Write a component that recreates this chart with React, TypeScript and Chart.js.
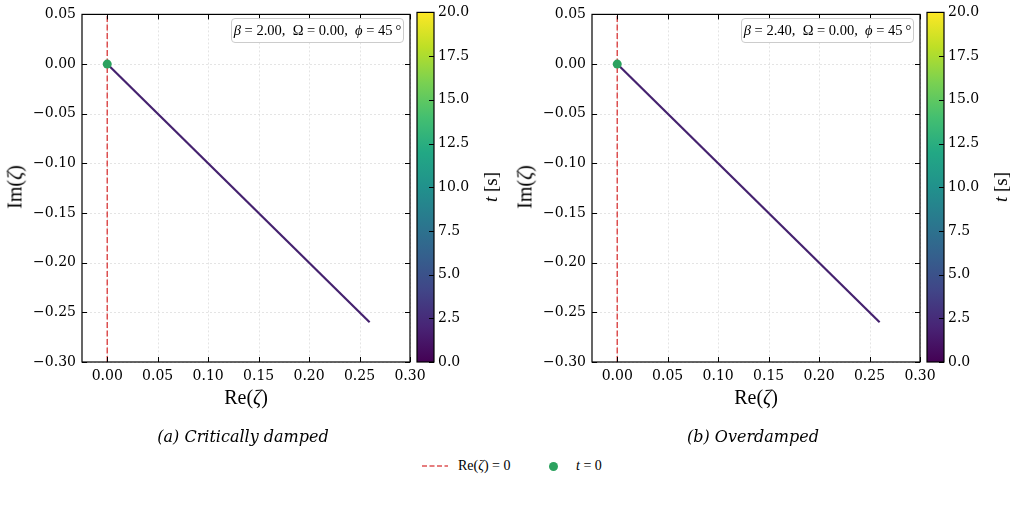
import React, { useEffect, useRef } from "react";
import { Chart, registerables } from "chart.js";

Chart.register(...registerables);

// ---- data ----
const panelTitles = ["(a) Critically damped", "(b) Overdamped"];
const betaValues = [2.0, 2.4];
const omegaValues = [0.0, 0.0];
const phiDegrees = [45, 45];
// trajectory endpoints in the complex plane (Re, Im)
const pathRe = [
  [0.0, 0.26],
  [0.0, 0.26],
];
const pathIm = [
  [0.0, -0.26],
  [0.0, -0.26],
];
const xTickValues = [0.0, 0.05, 0.1, 0.15, 0.2, 0.25, 0.3];
const yTickValues = [-0.3, -0.25, -0.2, -0.15, -0.1, -0.05, 0.0, 0.05];
const xLimits = [-0.025, 0.3];
const yLimits = [-0.3, 0.05];
const timeRange = [0, 20];
const colorbarTicks = [0, 2.5, 5, 7.5, 10, 12.5, 15, 17.5, 20];

// ---- styling ----
const viridisStops = [
  "#440154", "#482475", "#414487", "#355f8d", "#2a788e", "#21918c",
  "#22a884", "#44bf70", "#7ad151", "#bddf26", "#fde725",
];
const pathColor = "#45226f";
const zeroLineColor = "rgba(214, 39, 40, 0.8)";
const startColor = "#2ca25f";
const tickFont = { family: "'DejaVu Serif', serif", size: 14 };
const mathFont = "'Liberation Serif', 'DejaVu Serif', serif";

const PANEL_SHIFT = 510;
const PLOT = { left: 82, right: 410, top: 12, bottom: 362 };
const MAIN_W = 440;
const MAIN_H = 420;
const CB_LEFT = 410;
const CB_W = 100;
const CB_H = 380;

const fmt2 = (v: number) =>
  Math.abs(v) < 1e-9 ? "0.00" : (v < 0 ? "\u2212" : "") + Math.abs(v).toFixed(2);

const line = (ctx: CanvasRenderingContext2D, x1: number, y1: number, x2: number, y2: number) => {
  ctx.beginPath();
  ctx.moveTo(x1, y1);
  ctx.lineTo(x2, y2);
  ctx.stroke();
};

const axesPlugin = {
  id: "axesDecor",
  beforeDatasetsDraw(chart: any) {
    const { ctx, chartArea: a, scales } = chart;
    ctx.save();
    ctx.strokeStyle = "#dedede";
    ctx.lineWidth = 0.8;
    ctx.setLineDash([2, 2]);
    xTickValues.forEach((v) => {
      const px = Math.round(scales.x.getPixelForValue(v)) + 0.5;
      line(ctx, px, a.top, px, a.bottom);
    });
    yTickValues.forEach((v) => {
      const py = Math.round(scales.y.getPixelForValue(v)) + 0.5;
      line(ctx, a.left, py, a.right, py);
    });
    ctx.restore();
  },
  afterDatasetsDraw(chart: any) {
    const { ctx, chartArea: a, scales } = chart;
    ctx.save();
    ctx.strokeStyle = "#000";
    ctx.lineWidth = 1;
    ctx.setLineDash([]);
    const tl = 5;
    xTickValues.forEach((v) => {
      const px = Math.round(scales.x.getPixelForValue(v)) + 0.5;
      line(ctx, px, a.bottom, px, a.bottom - tl);
      line(ctx, px, a.top, px, a.top + tl);
    });
    yTickValues.forEach((v) => {
      const py = Math.round(scales.y.getPixelForValue(v)) + 0.5;
      line(ctx, a.left, py, a.left + tl, py);
      line(ctx, a.right, py, a.right - tl, py);
    });
    ctx.lineWidth = 1.2;
    ctx.strokeRect(a.left, a.top, a.right - a.left, a.bottom - a.top);
    ctx.restore();
  },
};

const colorbarPlugin = {
  id: "colorbarDecor",
  afterDatasetsDraw(chart: any) {
    const { ctx, chartArea: a, scales } = chart;
    ctx.save();
    ctx.strokeStyle = "#000";
    ctx.lineWidth = 1;
    colorbarTicks.forEach((v) => {
      const py = Math.round(scales.y.getPixelForValue(v)) + 0.5;
      line(ctx, a.right - 5, py, a.right, py);
    });
    ctx.lineWidth = 1.2;
    ctx.strokeRect(a.left, a.top, a.right - a.left, a.bottom - a.top);
    ctx.restore();
  },
};

function Panel({ index }: { index: number }) {
  const mainRef = useRef<HTMLCanvasElement | null>(null);
  const cbRef = useRef<HTMLCanvasElement | null>(null);
  const dx = index * PANEL_SHIFT;

  useEffect(() => {
    const main = new Chart(mainRef.current as HTMLCanvasElement, {
      type: "scatter",
      data: {
        datasets: [
          {
            label: "t = 0",
            data: [{ x: pathRe[index][0], y: pathIm[index][0] }],
            backgroundColor: startColor,
            borderWidth: 0,
            pointRadius: 4.5,
            showLine: false,
          },
          {
            label: "trajectory",
            data: pathRe[index].map((x, k) => ({ x, y: pathIm[index][k] })),
            showLine: true,
            borderColor: pathColor,
            borderWidth: 2.2,
            pointRadius: 0,
          },
          {
            label: "Re(ζ) = 0",
            data: yLimits.map((y) => ({ x: 0, y })),
            showLine: true,
            borderColor: zeroLineColor,
            borderWidth: 1.5,
            borderDash: [6, 2.5],
            pointRadius: 0,
          },
        ],
      },
      options: {
        animation: false,
        responsive: false,
        events: [],
        layout: { padding: { top: PLOT.top, right: MAIN_W - PLOT.right, left: 0, bottom: 0 } },
        plugins: { legend: { display: false }, tooltip: { enabled: false } },
        scales: {
          x: {
            type: "linear",
            min: xLimits[0],
            max: xLimits[1],
            grid: { display: false, drawTicks: false },
            border: { display: false },
            afterBuildTicks: (s: any) => {
              s.ticks = xTickValues.map((value) => ({ value }));
            },
            afterFit: (s: any) => {
              s.height = MAIN_H - PLOT.bottom;
            },
            ticks: {
              callback: (v: any) => fmt2(Number(v)),
              font: tickFont,
              color: "#000",
              padding: 6,
              maxRotation: 0,
              autoSkip: false,
            },
          },
          y: {
            type: "linear",
            min: yLimits[0],
            max: yLimits[1],
            grid: { display: false, drawTicks: false },
            border: { display: false },
            afterBuildTicks: (s: any) => {
              s.ticks = yTickValues.map((value) => ({ value }));
            },
            afterFit: (s: any) => {
              s.width = PLOT.left;
            },
            ticks: {
              callback: (v: any) => fmt2(Number(v)),
              font: tickFont,
              color: "#000",
              padding: 6,
              autoSkip: false,
            },
          },
        },
      } as any,
      plugins: [axesPlugin],
    });

    const cb = new Chart(cbRef.current as HTMLCanvasElement, {
      type: "bar",
      data: {
        labels: ["t"],
        datasets: [
          {
            data: [timeRange as any],
            backgroundColor: (c: any) => {
              const a = c.chart.chartArea;
              if (!a) return viridisStops[0];
              const g = c.chart.ctx.createLinearGradient(0, a.bottom, 0, a.top);
              viridisStops.forEach((col, k) => g.addColorStop(k / (viridisStops.length - 1), col));
              return g;
            },
            borderWidth: 0,
            barPercentage: 1,
            categoryPercentage: 1,
          },
        ],
      },
      options: {
        animation: false,
        responsive: false,
        events: [],
        layout: { padding: { top: PLOT.top, bottom: CB_H - PLOT.bottom, left: 7, right: 0 } },
        plugins: { legend: { display: false }, tooltip: { enabled: false } },
        scales: {
          x: { display: false },
          y: {
            position: "right",
            min: timeRange[0],
            max: timeRange[1],
            grid: { display: false, drawTicks: false },
            border: { display: false },
            afterBuildTicks: (s: any) => {
              s.ticks = colorbarTicks.map((value) => ({ value }));
            },
            afterFit: (s: any) => {
              s.width = CB_W - 24;
            },
            ticks: {
              callback: (v: any) => Number(v).toFixed(1),
              font: tickFont,
              color: "#000",
              padding: 4,
              autoSkip: false,
            },
          },
        },
      } as any,
      plugins: [colorbarPlugin],
    });

    return () => {
      main.destroy();
      cb.destroy();
    };
  }, [index]);

  const abs = (extra: React.CSSProperties): React.CSSProperties => ({
    position: "absolute",
    whiteSpace: "nowrap",
    ...extra,
  });
  const centerX = (PLOT.left + PLOT.right) / 2 + dx;
  const centerY = (PLOT.top + PLOT.bottom) / 2;

  return (
    <>
      <canvas
        ref={mainRef}
        width={MAIN_W}
        height={MAIN_H}
        style={{ position: "absolute", left: dx, top: 0, width: MAIN_W, height: MAIN_H }}
      />
      <canvas
        ref={cbRef}
        width={CB_W}
        height={CB_H}
        style={{ position: "absolute", left: CB_LEFT + dx, top: 0, width: CB_W, height: CB_H }}
      />
      {/* parameter box */}
      <div
        style={abs({
          left: PLOT.right - 6 - 173 + dx,
          top: 18,
          width: 171,
          height: 23,
          border: "1px solid #cccccc",
          borderRadius: 4,
          background: "rgba(255,255,255,0.85)",
          fontFamily: mathFont,
          fontSize: 14.5,
          lineHeight: "23px",
          textAlign: "center",
          color: "#000",
        })}
      >
        <i>β</i> = {betaValues[index].toFixed(2)},&nbsp; Ω = {omegaValues[index].toFixed(2)},&nbsp;{" "}
        <i>ϕ</i> = {phiDegrees[index]}&thinsp;°
      </div>
      {/* axis titles */}
      <div
        style={abs({
          left: centerX,
          top: 397,
          transform: "translate(-50%, -50%)",
          fontFamily: mathFont,
          fontSize: 20,
          color: "#000",
        })}
      >
        Re(<i>ζ</i>)
      </div>
      <div
        style={abs({
          left: 15 + dx,
          top: centerY,
          transform: "translate(-50%, -50%) rotate(-90deg)",
          fontFamily: mathFont,
          fontSize: 20,
          color: "#000",
        })}
      >
        Im(<i>ζ</i>)
      </div>
      <div
        style={abs({
          left: 491 + dx,
          top: centerY,
          transform: "translate(-50%, -50%) rotate(-90deg)",
          fontFamily: mathFont,
          fontSize: 19,
          color: "#000",
        })}
      >
        <i>t</i> [s]
      </div>
      {/* panel caption */}
      <div
        style={abs({
          left: 243 + dx,
          top: 436,
          transform: "translate(-50%, -50%)",
          fontFamily: "'DejaVu Serif', serif",
          fontStyle: "italic",
          fontSize: 16,
          color: "#000",
        })}
      >
        {panelTitles[index]}
      </div>
    </>
  );
}

function Legend() {
  return (
    <>
      <svg
        width={26}
        height={6}
        style={{ position: "absolute", left: 422, top: 463 }}
      >
        <line x1={0} y1={3} x2={26} y2={3} stroke={zeroLineColor} strokeWidth={1.5} strokeDasharray="5 2.5" />
      </svg>
      <div
        style={{
          position: "absolute",
          left: 458,
          top: 466,
          transform: "translateY(-50%)",
          fontFamily: mathFont,
          fontSize: 14,
          whiteSpace: "nowrap",
          color: "#000",
        }}
      >
        Re(<i>ζ</i>) = 0
      </div>
      <div
        style={{
          position: "absolute",
          left: 548.5,
          top: 461.5,
          width: 9,
          height: 9,
          borderRadius: "50%",
          background: startColor,
        }}
      />
      <div
        style={{
          position: "absolute",
          left: 576,
          top: 466,
          transform: "translateY(-50%)",
          fontFamily: mathFont,
          fontSize: 14,
          whiteSpace: "nowrap",
          color: "#000",
        }}
      >
        <i>t</i> = 0
      </div>
    </>
  );
}

export default function App() {
  return (
    <div
      style={{
        position: "absolute",
        left: 0,
        top: 0,
        width: 1014,
        height: 511,
        background: "#fff",
        overflow: "hidden",
      }}
    >
      {panelTitles.map((_, i) => (
        <Panel key={i} index={i} />
      ))}
      <Legend />
    </div>
  );
}
